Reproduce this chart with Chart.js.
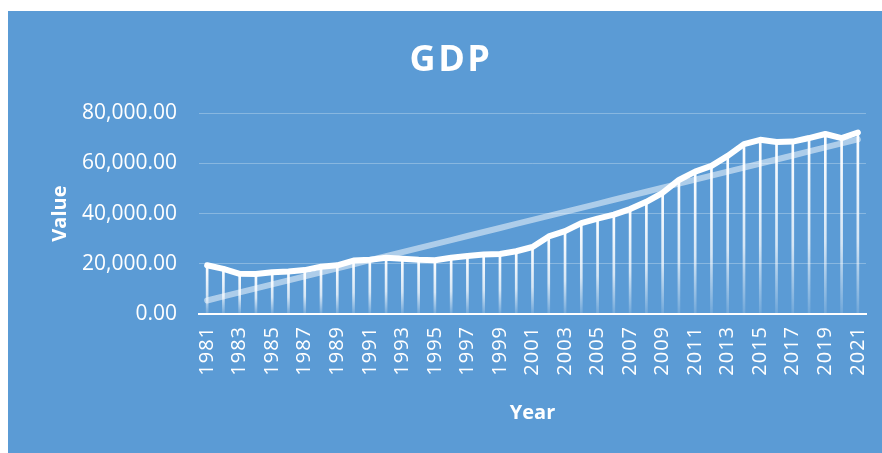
<!DOCTYPE html>
<html>
<head>
<meta charset="utf-8">
<script src="https://cdn.jsdelivr.net/npm/chart.js@4/dist/chart.umd.min.js"></script>
<style>
  html, body { margin: 0; padding: 0; background: #ffffff; }
  #wrap { position: absolute; left: 8px; top: 11px; width: 874px; height: 442px; background: #5B9BD5; }
  canvas { display: block; }
</style>
</head>
<body>
<div id="wrap"><canvas id="c"></canvas></div>
<script>
const years = ['1981','1982','1983','1984','1985','1986','1987','1988','1989','1990',
  '1991','1992','1993','1994','1995','1996','1997','1998','1999','2000',
  '2001','2002','2003','2004','2005','2006','2007','2008','2009','2010',
  '2011','2012','2013','2014','2015','2016','2017','2018','2019','2020','2021'];

const gdpValues = [19400, 18000, 16000, 15900, 16600, 16900, 17500, 18800, 19400, 21300,
  21600, 22400, 22000, 21600, 21400, 22400, 23100, 23700, 23900, 25000,
  26700, 30900, 33000, 36200, 38000, 39600, 41800, 44700, 48300, 53400,
  56700, 59000, 63000, 67700, 69400, 68500, 68700, 70100, 71700, 70100, 72300];

const yTicks = [0, 20000, 40000, 60000, 80000];

// Linear trendline (least squares fit of the series, as the original chart's trendline)
function linearFit(vals) {
  const n = vals.length;
  let sx = 0, sy = 0, sxx = 0, sxy = 0;
  vals.forEach((v, i) => { sx += i; sy += v; sxx += i * i; sxy += i * v; });
  const b = (n * sxy - sx * sy) / (n * sxx - sx * sx);
  const a = (sy - b * sx) / n;
  return vals.map((v, i) => a + b * i);
}
const trendValues = linearFit(gdpValues);

const FONT = 'Open Sans';

function dropGradient(ctx) {
  const chart = ctx.chart;
  const ys = chart.scales.y;
  if (!chart.chartArea || !ys || ctx.parsed === undefined) return 'rgba(255,255,255,0.8)';
  const top = ys.getPixelForValue(ctx.parsed.y);
  const bottom = ys.getPixelForValue(0);
  if (!isFinite(top) || !isFinite(bottom) || top === bottom) return 'rgba(255,255,255,0.8)';
  const g = chart.ctx.createLinearGradient(0, top, 0, bottom);
  g.addColorStop(0, 'rgba(255,255,255,1)');
  g.addColorStop(0.6, 'rgba(255,255,255,0.75)');
  g.addColorStop(1, 'rgba(255,255,255,0.12)');
  return g;
}

// letter spacing for the title and the x tick labels
const spacingPlugin = {
  id: 'spacing',
  afterLayout(chart) {
    const tb = chart.titleBlock;
    if (tb && !tb._spaced) {
      const orig = tb.draw.bind(tb);
      tb.draw = function () { const c = this.ctx; c.save(); c.letterSpacing = '2.5px'; orig(); c.restore(); };
      tb._spaced = true;
    }
    const xs = chart.scales.x;
    if (xs && !xs._spaced) {
      const origL = xs.drawLabels.bind(xs);
      xs.drawLabels = function (a) { const c = this.ctx; c.save(); c.letterSpacing = '1px'; origL(a); c.restore(); };
      xs._spaced = true;
    }
  }
};

new Chart(document.getElementById('c'), {
  type: 'line',
  plugins: [spacingPlugin],
  data: {
    labels: years,
    datasets: [
      {
        type: 'line',
        label: 'GDP',
        data: gdpValues,
        borderColor: '#ffffff',
        borderWidth: 6,
        pointRadius: 0,
        borderJoinStyle: 'round',
        borderCapStyle: 'round',
        tension: 0,
        order: 1
      },
      {
        type: 'line',
        label: 'Trend',
        data: trendValues,
        borderColor: 'rgba(255,255,255,0.5)',
        borderWidth: 6,
        pointRadius: 0,
        borderCapStyle: 'round',
        tension: 0,
        order: 2
      },
      {
        type: 'bar',
        label: 'Drop',
        data: gdpValues,
        backgroundColor: dropGradient,
        barThickness: 2,
        order: 3
      }
    ]
  },
  options: {
    responsive: true,
    maintainAspectRatio: false,
    animation: false,
    layout: { padding: { left: 28, right: 16, top: 0, bottom: 0 } },
    plugins: {
      legend: { display: false },
      tooltip: { enabled: false },
      title: {
        display: true,
        text: 'GDP',
        color: '#ffffff',
        font: { family: FONT, size: 36, weight: 'bold' },
        padding: { top: 28, bottom: 31 }
      }
    },
    scales: {
      x: {
        offset: true,
        grid: { display: false, drawTicks: false },
        border: { display: true, color: '#ffffff', width: 2 },
        ticks: {
          color: '#ffffff',
          font: { family: FONT, size: 20 },
          maxRotation: 90,
          minRotation: 90,
          autoSkip: false,
          padding: 12,
          callback: function (val, idx) { return idx % 2 === 0 ? years[idx] : ''; }
        },
        title: {
          display: true,
          text: 'Year',
          color: '#ffffff',
          font: { family: FONT, size: 20, weight: 'bold' },
          padding: { top: 0, bottom: 28 }
        },
        afterFit: function (s) { s.height = 139; s.paddingLeft = 0; s.paddingRight = 0; }
      },
      y: {
        min: 0,
        max: 80000,
        afterBuildTicks: function (s) { s.ticks = yTicks.map(v => ({ value: v })); },
        grid: { color: 'rgba(255,255,255,0.28)', lineWidth: 1, drawTicks: false },
        border: { display: false },
        ticks: {
          color: '#ffffff',
          font: { family: FONT, size: 21 },
          padding: 22,
          callback: function (v) { return Number(v).toLocaleString('en-US', { minimumFractionDigits: 2, maximumFractionDigits: 2 }); }
        },
        title: {
          display: true,
          text: 'Value',
          color: '#ffffff',
          font: { family: FONT, size: 20, weight: 'bold' },
          padding: { top: 12, bottom: 0 }
        },
        afterFit: function (s) { s.width = 163; }
      }
    }
  }
});
</script>
</body>
</html>
